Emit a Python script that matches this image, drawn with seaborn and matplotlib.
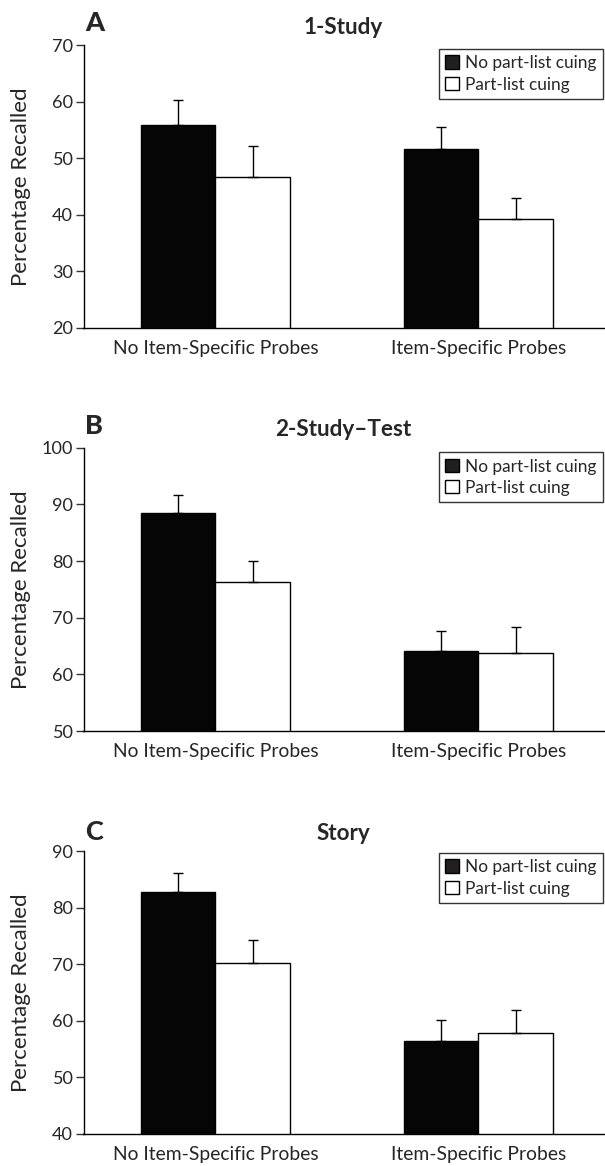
import matplotlib
matplotlib.use("Agg")
import matplotlib.pyplot as plt
import seaborn as sns
import pandas as pd
import numpy as np

sns.set_style("ticks")
plt.rcParams['font.family'] = ['Lato', 'DejaVu Sans']

categories = ["No Item-Specific Probes", "Item-Specific Probes"]
conditions = ["No part-list cuing", "Part-list cuing"]

# Panel A: 1-Study
a_nocue = [55.8, 51.7]
a_cue = [46.6, 39.2]
a_nocue_se = [4.4, 3.8]
a_cue_se = [5.6, 3.7]

# Panel B: 2-Study-Test
b_nocue = [88.4, 64.2]
b_cue = [76.3, 63.8]
b_nocue_se = [3.25, 3.5]
b_cue_se = [3.7, 4.5]

# Panel C: Story
c_nocue = [82.8, 56.4]
c_cue = [70.3, 57.8]
c_nocue_se = [3.4, 3.7]
c_cue_se = [3.9, 4.05]

panels = [
    ("A", "1-Study", a_nocue, a_cue, a_nocue_se, a_cue_se, (20, 70), [20, 30, 40, 50, 60, 70]),
    ("B", "2-Study\u2013Test", b_nocue, b_cue, b_nocue_se, b_cue_se, (50, 100), [50, 60, 70, 80, 90, 100]),
    ("C", "Story", c_nocue, c_cue, c_nocue_se, c_cue_se, (40, 90), [40, 50, 60, 70, 80, 90]),
]

W, H = 605, 1166
fig = plt.figure(figsize=(W / 100, H / 100), dpi=100)
renderer = fig.canvas.get_renderer()


def fit_size(text, target_px, use_height=False):
    bb = text.get_window_extent(renderer)
    cur = bb.height if use_height else bb.width
    return text.get_fontsize() * target_px / cur


# pixel layout: (axes top, axes bottom, title y, letter y, legend top)
layout = [
    (45, 328, 27, 23, 49),
    (447.7, 731, 430, 426, 452.3),
    (851, 1134, 834, 832, 853),
]

ax_left_px = 83.5
ax_w_px = W - ax_left_px
axes = []
titles = []
letters = []
for (letter, title, nocue, cue, se1, se2, ylim, yticks), (top, bot, ty, ly, lt) in zip(panels, layout):
    ax = fig.add_axes([ax_left_px / W, 1 - bot / H, ax_w_px / W, (bot - top) / H])
    df = pd.DataFrame({
        "category": categories * 2,
        "condition": [conditions[0]] * 2 + [conditions[1]] * 2,
        "value": nocue + cue,
    })
    sns.barplot(data=df, x="category", y="value", hue="condition", order=categories,
                hue_order=conditions, palette=["#050505", "white"], width=0.568,
                edgecolor="black", linewidth=1.0, errorbar=None, ax=ax, legend=True)
    for cont, errs in zip(ax.containers, [se1, se2]):
        xs = [p.get_x() + p.get_width() / 2 for p in cont]
        ys = [p.get_height() for p in cont]
        ax.errorbar(xs, ys, yerr=[np.zeros(len(errs)), errs], fmt="none",
                    ecolor="black", elinewidth=1.0, capsize=3.8, capthick=1.0, zorder=1)
    ax.set_ylim(*ylim)
    ax.set_yticks(yticks)
    ax.set_xlim(-0.501, 1.481)
    ax.set_xlabel("")
    ax.set_ylabel("Percentage Recalled", fontsize=14)
    ax.yaxis.set_label_coords((31 - ax_left_px) / ax_w_px, 0.5)
    ax.tick_params(axis="y", length=5.5, width=1, labelsize=13, pad=2, color="#333333")
    ax.tick_params(axis="x", length=0, labelsize=13, pad=8.5)
    sns.despine(ax=ax)
    for s in ["left", "bottom"]:
        ax.spines[s].set_linewidth(1.0)
        ax.spines[s].set_color("black")
    leg = ax.legend(loc="upper left", bbox_to_anchor=((439 - ax_left_px) / ax_w_px, (bot - lt) / (bot - top)),
                    frameon=True, fancybox=False, fontsize=13, handlelength=0.75, handleheight=0.75,
                    handletextpad=0.35, labelspacing=0.3, borderpad=0.35, borderaxespad=0)
    leg.get_frame().set_edgecolor("black")
    leg.get_frame().set_linewidth(1.0)
    leg.legend_handles[0].set_facecolor("#231f20")
    titles.append(fig.text(343 / W, 1 - ty / H, title, ha="center", va="center", fontsize=14, fontweight="bold"))
    letters.append(fig.text(85 / W, 1 - ly / H, letter, ha="left", va="center", fontsize=20, fontweight="black"))
    axes.append(ax)

# size text to match the reference pixel extents
fig.canvas.draw()
ax0 = axes[0]
xt = [t for t in ax0.get_xticklabels() if t.get_text() == categories[0]][0]
xsize = fit_size(xt, 205)
ysize = fit_size(ax0.get_yticklabels()[-1], 21)
lsize = fit_size(ax0.yaxis.label, 199, use_height=True)
legsize = fit_size(ax0.get_legend().get_texts()[0], 131)
tsize = fit_size(titles[1], 137)
lettersize = fit_size(letters[0], 19)
for ax in axes:
    ax.tick_params(axis="x", labelsize=xsize)
    ax.tick_params(axis="y", labelsize=ysize)
    ax.yaxis.label.set_fontsize(lsize)
    for t in ax.get_legend().get_texts():
        t.set_fontsize(legsize)
for t in titles:
    t.set_fontsize(tsize)
for t in letters:
    t.set_fontsize(lettersize)

fig.savefig("out.png", dpi=100)
